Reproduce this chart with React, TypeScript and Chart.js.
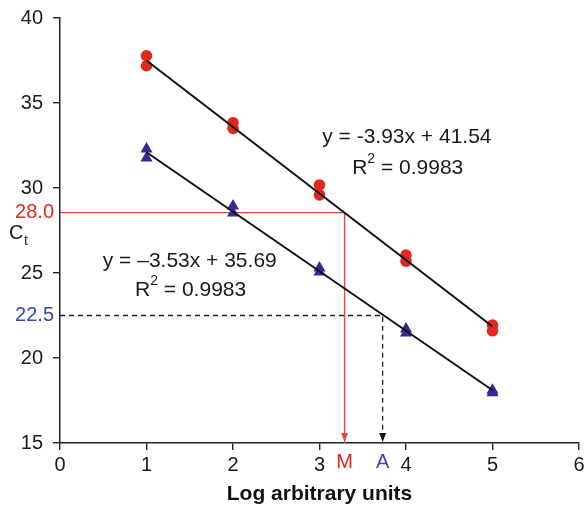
import { useEffect, useRef } from 'react';
import { Chart, registerables } from 'chart.js';

Chart.register(...registerables);

// ---- data ----
const xCategories = [1, 2, 3, 4, 5];
const redReplicateA = [37.78, 33.84, 30.18, 26.06, 21.94];
const redReplicateB = [37.19, 33.51, 29.59, 25.7, 21.6];
const blueReplicateA = [32.3, 28.94, 25.3, 21.7, 18.1];
const blueReplicateB = [31.76, 28.53, 25.06, 21.47, 17.95];
const fitX = [1, 5];
const redFitY = [37.5, 21.85];
const blueFitY = [32.1, 18.1];
const xTicks = [0, 1, 2, 3, 4, 5, 6];
const yTicks = [15, 20, 25, 30, 35, 40];
// reference read-outs: plotted level, label, interpolated x
const mLevel = 28.55;
const mLabel = '28.0';
const mX = 3.29;
const aLevel = 22.5;
const aLabel = '22.5';
const aX = 3.73;
const redEquation = 'y = -3.93x + 41.54';
const blueEquation = 'y = \u20133.53x + 35.69';
const rSquared = '0.9983';
const xTitle = 'Log arbitrary units';

const FONT = "'Liberation Sans', Arial, Helvetica, sans-serif";
const RED = '#e0291c';
const RED_LINE = '#e5473b';
const BLUE_TEXT = '#3848a8';
const TRI = '#35289a';

const pts = (ys: number[]) => ys.map((y, i) => ({ x: xCategories[i], y }));

const annotPlugin = {
  id: 'annot',
  afterDatasetsDraw(chart: any) {
    const ctx = chart.ctx;
    const xs = chart.scales.x;
    const ys = chart.scales.y;
    const base = ys.getPixelForValue(15);
    const arrow = (x: number, color: string) => {
      const px = xs.getPixelForValue(x);
      ctx.save();
      ctx.fillStyle = color;
      ctx.beginPath();
      ctx.moveTo(px, base - 1);
      ctx.lineTo(px - 3.5, base - 10);
      ctx.lineTo(px + 3.5, base - 10);
      ctx.closePath();
      ctx.fill();
      ctx.restore();
    };
    arrow(mX, RED_LINE);
    arrow(aX, '#111');
  },
  afterDraw(chart: any) {
    const ctx = chart.ctx;
    const xs = chart.scales.x;
    const ys = chart.scales.y;
    ctx.save();
    ctx.textBaseline = 'middle';
    // equations
    const eq = (text: string, x: number, y: number) => {
      ctx.font = `21px ${FONT}`;
      ctx.fillStyle = '#1a1a1a';
      ctx.textAlign = 'center';
      ctx.fillText(text, xs.getPixelForValue(x), ys.getPixelForValue(y));
    };
    const r2 = (x: number, y: number) => {
      const cx = xs.getPixelForValue(x);
      const cy = ys.getPixelForValue(y);
      ctx.textAlign = 'left';
      ctx.fillStyle = '#1a1a1a';
      ctx.font = `21px ${FONT}`;
      const wR = ctx.measureText('R').width;
      const rest = ' = ' + rSquared;
      const wRest = ctx.measureText(rest).width;
      ctx.font = `14px ${FONT}`;
      const w2 = ctx.measureText('2').width;
      const start = cx - (wR + w2 + wRest) / 2;
      ctx.font = `21px ${FONT}`;
      ctx.fillText('R', start, cy);
      ctx.fillText(rest, start + wR + w2, cy);
      ctx.font = `14px ${FONT}`;
      ctx.fillText('2', start + wR, cy - 9);
    };
    eq(redEquation, 4.01, 33.0);
    r2(4.02, 31.18);
    eq(blueEquation, 1.5, 25.7);
    r2(1.51, 24.0);

    // y read-out labels
    ctx.textAlign = 'right';
    ctx.font = `20px ${FONT}`;
    ctx.fillStyle = RED;
    ctx.fillText(mLabel, 54, ys.getPixelForValue(mLevel));
    ctx.fillStyle = BLUE_TEXT;
    ctx.fillText(aLabel, 54, ys.getPixelForValue(aLevel));

    // Ct label
    ctx.textAlign = 'left';
    ctx.fillStyle = '#1a1a1a';
    ctx.font = `20px ${FONT}`;
    ctx.fillText('C', 9, 233);
    ctx.font = `14px ${FONT}`;
    ctx.fillText('t', 24, 241);

    // M and A labels
    ctx.textAlign = 'center';
    ctx.font = `20px ${FONT}`;
    const ly = ys.getPixelForValue(15) + 19;
    ctx.fillStyle = RED;
    ctx.fillText('M', xs.getPixelForValue(mX), ly);
    ctx.fillStyle = BLUE_TEXT;
    ctx.fillText('A', xs.getPixelForValue(aX), ly);
    ctx.restore();
  },
};

export default function App() {
  const ref = useRef<HTMLCanvasElement | null>(null);
  useEffect(() => {
    if (!ref.current) return;
    const chart = new Chart(ref.current, {
      type: 'scatter',
      data: {
        datasets: [
          {
            data: fitX.map((x, i) => ({ x, y: redFitY[i] })),
            showLine: true,
            borderColor: '#111',
            borderWidth: 2,
            pointRadius: 0,
            order: 0,
          },
          {
            data: fitX.map((x, i) => ({ x, y: blueFitY[i] })),
            showLine: true,
            borderColor: '#111',
            borderWidth: 2,
            pointRadius: 0,
            order: 0,
          },
          {
            data: [...pts(redReplicateA), ...pts(redReplicateB)],
            pointStyle: 'circle',
            pointRadius: 5.8,
            backgroundColor: RED,
            borderColor: RED,
            borderWidth: 0,
            order: 1,
          },
          {
            data: [...pts(blueReplicateA), ...pts(blueReplicateB)],
            pointStyle: 'triangle',
            pointRadius: 7,
            backgroundColor: TRI,
            borderColor: TRI,
            borderWidth: 0,
            order: 1,
          },
          {
            data: [
              { x: 0, y: mLevel },
              { x: mX, y: mLevel },
              { x: mX, y: 15 },
            ],
            showLine: true,
            borderColor: RED_LINE,
            borderWidth: 1.4,
            pointRadius: 0,
            order: 2,
          },
          {
            data: [
              { x: 0, y: aLevel },
              { x: aX, y: aLevel },
              { x: aX, y: 15 },
            ],
            showLine: true,
            borderColor: '#222',
            borderWidth: 1.3,
            borderDash: [5, 4],
            pointRadius: 0,
            order: 2,
          },
        ],
      },
      options: {
        animation: false,
        responsive: false,
        maintainAspectRatio: false,
        layout: { padding: { left: 0, right: 5, top: 18, bottom: 0 } },
        plugins: { legend: { display: false }, tooltip: { enabled: false } },
        scales: {
          x: {
            type: 'linear',
            min: 0,
            max: 6,
            afterBuildTicks: (s: any) => {
              s.ticks = xTicks.map((v) => ({ value: v }));
            },
            afterFit: (s: any) => {
              s.height = 65;
              s.paddingLeft = 0;
              s.paddingRight = 0;
            },
            grid: { drawOnChartArea: false, drawTicks: true, tickLength: 7, color: '#222', lineWidth: 1.4 },
            border: { display: true, color: '#222', width: 1.5 },
            ticks: { color: '#1a1a1a', font: { size: 20, family: FONT }, padding: 3, maxRotation: 0, autoSkip: false },
            title: {
              display: true,
              text: xTitle,
              color: '#111',
              font: { size: 21, weight: 'bold', family: FONT },
              padding: { top: 0, bottom: 1 },
            },
          },
          y: {
            type: 'linear',
            min: 15,
            max: 40,
            afterBuildTicks: (s: any) => {
              s.ticks = yTicks.map((v) => ({ value: v }));
            },
            afterFit: (s: any) => {
              s.width = 60;
              s.paddingTop = 0;
              s.paddingBottom = 0;
            },
            grid: { drawOnChartArea: false, drawTicks: true, tickLength: 7, color: '#222', lineWidth: 1.4 },
            border: { display: true, color: '#222', width: 1.5 },
            ticks: { color: '#1a1a1a', font: { size: 20, family: FONT }, padding: 10, autoSkip: false },
          },
        },
      },
      plugins: [annotPlugin],
    } as any);
    return () => chart.destroy();
  }, []);
  return (
    <div style={{ position: 'fixed', left: 0, top: 0, width: 586, height: 508, background: '#fff' }}>
      <canvas ref={ref} width={586} height={508} style={{ display: 'block' }} />
    </div>
  );
}
